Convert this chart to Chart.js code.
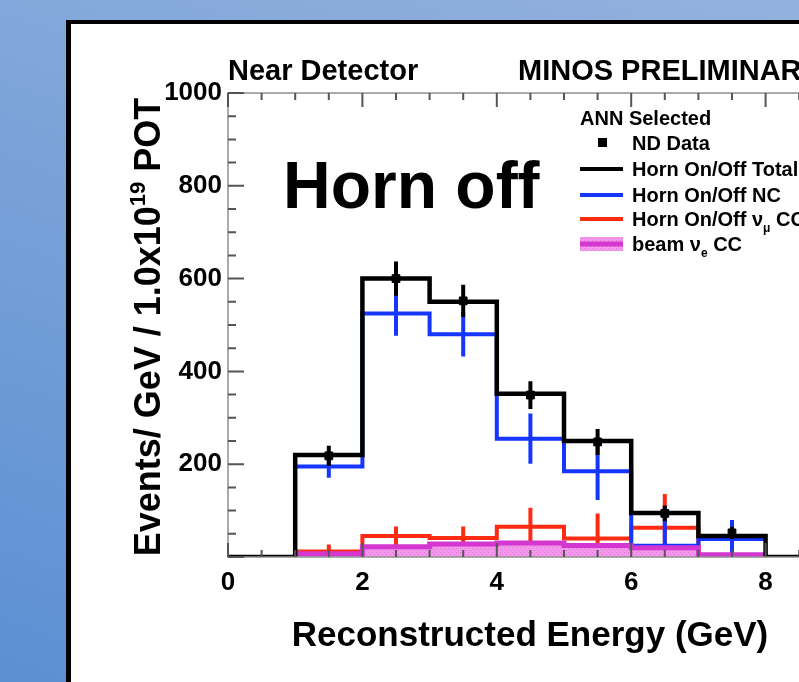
<!DOCTYPE html>
<html lang="en">
<head>
<meta charset="UTF-8">
<title>Near Detector - Horn off</title>
<script src="https://cdn.jsdelivr.net/npm/chart.js"></script>
<style>
  html, body { margin: 0; padding: 0; width: 799px; height: 682px; overflow: hidden; }
  body { position: relative; background: linear-gradient(200deg, #93b2de 0%, #7aa2d8 45%, #5b8fd3 100%); }
  #panel { position: absolute; left: 66px; top: 20px; width: 900px; height: 800px; background: #fff;
           border-left: 5px solid #000; border-top: 4px solid #000; }
  #chart { position: absolute; left: 0; top: 0; }
</style>
</head>
<body>
<div id="panel"></div>
<canvas id="chart" width="1000" height="682"></canvas>
<script>
const FONT = "'Liberation Sans', Arial, Helvetica, sans-serif";

// histogram bins (lower edges, 1 GeV wide)
const binLow = [0, 1, 2, 3, 4, 5, 6, 7, 8, 9];
const totalMC = [0, 220, 600, 550, 352, 250, 95, 45, 0, 0];

// components only exist from 1 to 8 GeV
const compLow = [1, 2, 3, 4, 5, 6, 7];
const ncMC = [195, 525, 480, 255, 185, 24, 39];
const ncErr = [24, 48, 48, 54, 62, 84, 41];
const numuCC = [12, 45, 41, 65, 40, 63, 2];
const numuErr = [15, 21, 25, 41, 54, 73, 0];
const nueCC = [7, 22, 28, 30, 25, 20, 5];

// ND data points
const dataX = [1.5, 2.5, 3.5, 4.5, 5.5, 6.5, 7.5];
const dataY = [218, 600, 552, 349, 248, 94, 52];
const dataErr = [22, 37, 35, 30, 28, 17, 13];

const xTicks = [0, 2, 4, 6, 8];
const yTicks = [200, 400, 600, 800, 1000];

function steps(low, vals) {
  const pts = low.map((x, i) => ({ x: x, y: vals[i] }));
  pts.push({ x: low[low.length - 1] + 1, y: vals[vals.length - 1] });
  return pts;
}

// dotted pink fill like the ROOT hatch
function pinkPattern() {
  const c = document.createElement('canvas');
  c.width = 4; c.height = 4;
  const g = c.getContext('2d');
  g.fillStyle = '#f29ae9';
  g.fillRect(0, 0, 4, 4);
  g.fillStyle = '#e070da';
  g.fillRect(0, 0, 1, 1);
  g.fillRect(2, 2, 1, 1);
  return g.createPattern(c, 'repeat');
}

function segs(str) {
  return str.split(/(\^\{[^}]*\}|_\{[^}]*\})/).filter(s => s).map(s => {
    if (s[0] === '^') return { t: s.slice(2, -1), k: 'sup' };
    if (s[0] === '_') return { t: s.slice(2, -1), k: 'sub' };
    return { t: s, k: 'n' };
  });
}

function richText(ctx, str, x, y, size, weight, align) {
  const parts = segs(str);
  const fontFor = k => weight + ' ' + (k === 'n' ? size : Math.round(size * 0.6)) + 'px ' + FONT;
  let w = 0;
  parts.forEach(p => { ctx.font = fontFor(p.k); p.w = ctx.measureText(p.t).width; w += p.w; });
  let cx = align === 'center' ? x - w / 2 : align === 'right' ? x - w : x;
  ctx.textAlign = 'left';
  ctx.textBaseline = 'alphabetic';
  parts.forEach(p => {
    ctx.font = fontFor(p.k);
    const dy = p.k === 'sup' ? -size * 0.42 : p.k === 'sub' ? size * 0.28 : 0;
    ctx.fillText(p.t, cx, y + dy);
    cx += p.w;
  });
}

const errorBars = {
  id: 'errorBars',
  afterDatasetDraw(chart, args) {
    const ds = chart.data.datasets[args.index];
    if (!ds.errors) return;
    const { ctx, chartArea: a, scales: { x, y } } = chart;
    ctx.save();
    ctx.beginPath();
    ctx.rect(a.left, a.top, a.right - a.left, a.bottom - a.top);
    ctx.clip();
    ctx.strokeStyle = ds.borderColor;
    ctx.lineWidth = ds.errWidth || 4;
    ctx.beginPath();
    ds.errors.forEach((e, i) => {
      if (!e) return;
      const px = x.getPixelForValue(ds.errX[i]);
      ctx.moveTo(px, y.getPixelForValue(ds.errY[i] - e));
      ctx.lineTo(px, y.getPixelForValue(ds.errY[i] + e));
    });
    ctx.stroke();
    ctx.restore();
  }
};

const frame = {
  id: 'frame',
  afterDatasetsDraw(chart) {
    const { ctx, chartArea: a, scales: { x, y } } = chart;
    ctx.save();
    ctx.strokeStyle = '#909090';
    ctx.lineWidth = 1.5;
    ctx.strokeRect(a.left, a.top, a.right - a.left, a.bottom - a.top);
    ctx.strokeStyle = '#555';
    ctx.lineWidth = 2;
    ctx.beginPath();
    for (let v = 0; v <= 10; v += 0.5) {
      const px = x.getPixelForValue(v);
      const len = v % 2 === 0 ? 14 : 7;
      ctx.moveTo(px, a.top); ctx.lineTo(px, a.top + len);
      ctx.moveTo(px, a.bottom); ctx.lineTo(px, a.bottom - len);
    }
    for (let v = 0; v <= 1000; v += 50) {
      const py = y.getPixelForValue(v);
      const len = v % 200 === 0 ? 16 : 8;
      ctx.moveTo(a.left, py); ctx.lineTo(a.left + len, py);
      ctx.moveTo(a.right, py); ctx.lineTo(a.right - len, py);
    }
    ctx.stroke();
    ctx.restore();
  }
};

const texts = {
  id: 'texts',
  afterDraw(chart) {
    const ctx = chart.ctx;
    const ds = chart.data.datasets;
    ctx.save();
    ctx.fillStyle = '#000';
    richText(ctx, 'Near Detector', 228, 80, 29, 'bold', 'left');
    richText(ctx, 'MINOS PRELIMINARY', 518, 80, 29, 'bold', 'left');
    richText(ctx, 'Horn off', 283, 208, 66, 'bold', 'left');
    richText(ctx, 'Reconstructed Energy (GeV)', 530, 646, 35, 'bold', 'center');

    ctx.save();
    ctx.translate(160, 327);
    ctx.rotate(-Math.PI / 2);
    richText(ctx, 'Events/ GeV / 1.0x10^{19} POT', 0, 0, 36, 'bold', 'center');
    ctx.restore();

    // legend
    richText(ctx, 'ANN Selected', 580, 125, 20, 'bold', 'left');
    const rows = [
      { d: ds[4], y: 143, kind: 'point' },
      { d: ds[0], y: 169, kind: 'line' },
      { d: ds[1], y: 195, kind: 'line' },
      { d: ds[2], y: 219, kind: 'line' },
      { d: ds[3], y: 244, kind: 'band' }
    ];
    rows.forEach(r => {
      if (r.kind === 'point') {
        ctx.fillStyle = '#000';
        ctx.fillRect(598, r.y - 5, 9, 9);
      } else if (r.kind === 'line') {
        ctx.strokeStyle = r.d.borderColor;
        ctx.lineWidth = 4;
        ctx.beginPath(); ctx.moveTo(580, r.y); ctx.lineTo(623, r.y); ctx.stroke();
      } else {
        ctx.fillStyle = r.d.backgroundColor;
        ctx.fillRect(580, r.y - 7, 43, 14);
        ctx.strokeStyle = r.d.borderColor;
        ctx.lineWidth = 5;
        ctx.beginPath(); ctx.moveTo(580, r.y); ctx.lineTo(623, r.y); ctx.stroke();
      }
      ctx.fillStyle = '#000';
      richText(ctx, r.d.label, 632, r.y + 7, 20, 'bold', 'left');
    });
    ctx.restore();
  }
};

const tickFont = { family: FONT, size: 26, weight: 'bold' };

new Chart(document.getElementById('chart'), {
  type: 'line',
  data: {
    datasets: [
      {
        label: 'Horn On/Off Total',
        data: steps(binLow, totalMC),
        borderColor: '#000',
        borderWidth: 4.5,
        stepped: 'before',
        pointRadius: 0,
        order: 2
      },
      {
        label: 'Horn On/Off NC',
        data: steps(compLow, ncMC),
        borderColor: '#1436ff',
        borderWidth: 4,
        stepped: 'before',
        pointRadius: 0,
        errX: compLow.map(v => v + 0.5), errY: ncMC, errors: ncErr,
        order: 4
      },
      {
        label: 'Horn On/Off \u03bd_{\u03bc} CC',
        data: steps(compLow, numuCC),
        borderColor: '#ff2a12',
        borderWidth: 4,
        stepped: 'before',
        pointRadius: 0,
        errX: compLow.map(v => v + 0.5), errY: numuCC, errors: numuErr,
        order: 5
      },
      {
        label: 'beam \u03bd_{e} CC',
        data: steps(compLow, nueCC),
        borderColor: '#d436d0',
        backgroundColor: pinkPattern(),
        borderWidth: 5,
        stepped: 'before',
        fill: 'origin',
        pointRadius: 0,
        order: 3
      },
      {
        label: 'ND Data',
        data: dataX.map((x, i) => ({ x: x, y: dataY[i] })),
        showLine: false,
        pointStyle: 'rect',
        pointRadius: 5.5,
        backgroundColor: '#000',
        borderColor: '#000',
        errX: dataX, errY: dataY, errors: dataErr,
        order: 1
      }
    ]
  },
  options: {
    responsive: false,
    animation: false,
    layout: { padding: { left: 0, top: 93, right: 100, bottom: 0 } },
    plugins: { legend: { display: false }, tooltip: { enabled: false } },
    scales: {
      x: {
        type: 'linear', min: 0, max: 10,
        afterFit(s) { s.height = 125; },
        grid: { display: false, drawTicks: false },
        border: { display: false },
        ticks: {
          stepSize: 2, autoSkip: false, maxRotation: 0, padding: 10,
          color: '#000', font: tickFont,
          callback: v => xTicks.includes(v) ? v : ''
        }
      },
      y: {
        min: 0, max: 1000,
        afterFit(s) { s.width = 228; },
        grid: { display: false, drawTicks: false },
        border: { display: false },
        ticks: {
          stepSize: 200, autoSkip: false, padding: 6,
          color: '#000', font: tickFont,
          callback: v => yTicks.includes(v) ? v : ''
        }
      }
    }
  },
  plugins: [errorBars, frame, texts]
});
</script>
</body>
</html>
